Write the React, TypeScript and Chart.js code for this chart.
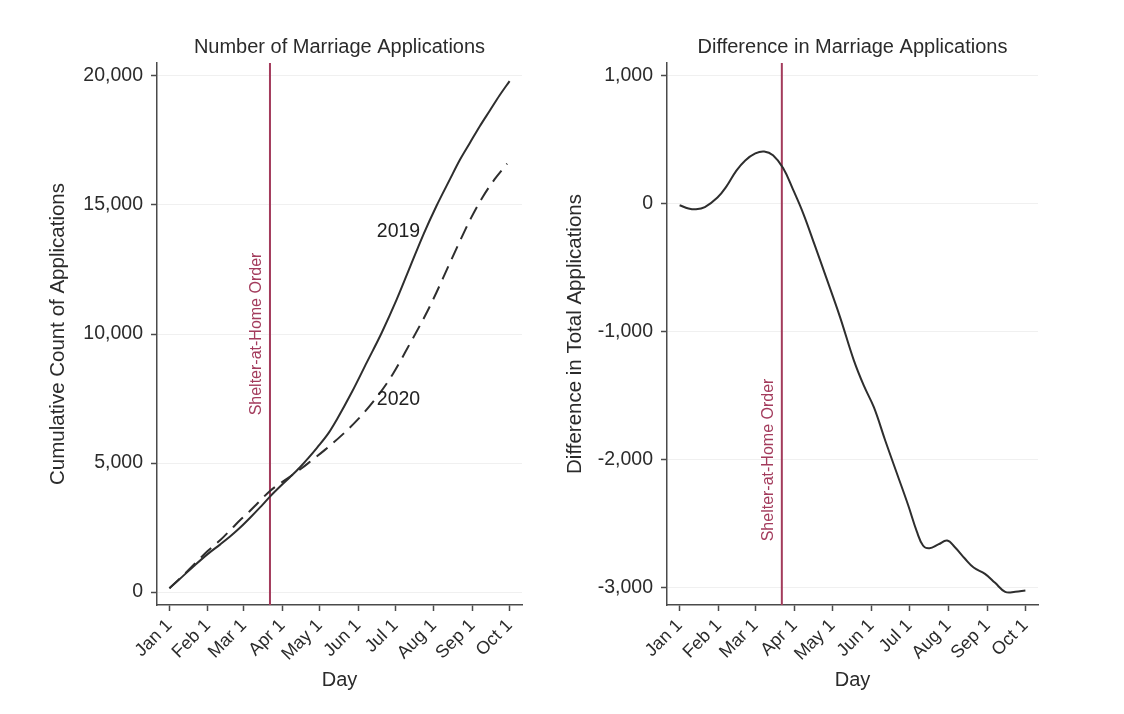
import React, { useEffect, useRef } from "react";
import { Chart, registerables } from "chart.js";

Chart.register(...registerables);

// ---------- data ----------
const monthTickDays = [0, 31, 60, 91, 121, 152, 182, 213, 244, 274];
const monthTickLabels = ["Jan 1", "Feb 1", "Mar 1", "Apr 1", "May 1", "Jun 1", "Jul 1", "Aug 1", "Sep 1", "Oct 1"];

const shelterDay = 81;
const shelterLabel = "Shelter-at-Home Order";

const leftTitle = "Number of Marriage Applications";
const leftYTitle = "Cumulative Count of Applications";
const leftYTicks = [0, 5000, 10000, 15000, 20000];

const rightTitle = "Difference in Marriage Applications";
const rightYTitle = "Difference in Total Applications";
const rightYTicks = [-3000, -2000, -1000, 0, 1000];

const xTitle = "Day";

const days2019 = [0, 10, 20, 31, 41, 50, 57, 65, 73, 81, 90, 97, 105, 112, 119, 128, 135, 147, 159, 171, 183, 194, 205, 215, 226, 234, 242, 250, 258, 266, 274];
const count2019 = [150, 580, 1020, 1480, 1850, 2200, 2500, 2880, 3280, 3700, 4130, 4450, 4830, 5200, 5600, 6150, 6700, 7750, 8900, 10050, 11330, 12620, 13900, 14950, 16000, 16750, 17400, 18050, 18650, 19250, 19800];

const days2020 = [0, 10, 20, 31, 41, 50, 57, 65, 71, 81, 89, 97, 106, 114, 125, 140, 152, 167, 180, 194, 202, 208, 215, 224, 234, 243, 252, 262, 272];
const count2020 = [150, 600, 1080, 1600, 2015, 2450, 2790, 3150, 3440, 3920, 4200, 4470, 4780, 5080, 5500, 6130, 6700, 7550, 8450, 9650, 10350, 10900, 11600, 12550, 13600, 14500, 15280, 16000, 16600];

const seriesLabels = ["2019", "2020"];
const seriesLabelDays = [184.5, 184.5];
const seriesLabelValues = [13950, 7440];

const diffDays = [0, 7, 13, 20, 30, 37, 45, 52, 60, 67, 74, 82, 90, 98, 107, 116, 127, 138, 146, 154, 163, 172, 181, 188, 193, 198, 205, 212, 218, 226, 233, 242, 250, 258, 266, 274];
const diffValues = [-10, -35, -42, -25, 50, 135, 260, 340, 395, 410, 380, 280, 110, -75, -320, -570, -880, -1220, -1420, -1590, -1850, -2100, -2350, -2560, -2670, -2690, -2660, -2630, -2680, -2770, -2840, -2890, -2960, -3030, -3030, -3020];

// ---------- styling ----------
const FONT = "'Liberation Sans', Arial, Helvetica, sans-serif";
const TEXT = "#2b2b2b";
const AXIS = "#4a4a4a";
const LINE = "#2e2e2e";
const MARKER = "#a33b5c";

function fmt(v: number): string {
  const s = Math.abs(v).toString().replace(/\B(?=(\d{3})+(?!\d))/g, ",");
  return v < 0 ? "-" + s : s;
}

const annotationPlugin = {
  id: "annotations",
  beforeDatasetsDraw(chart: any, _args: any, opts: any) {
    const { ctx, chartArea, scales } = chart;
    const x = scales.x.getPixelForValue(opts.lineDay);
    ctx.save();
    ctx.strokeStyle = MARKER;
    ctx.lineWidth = 2;
    ctx.beginPath();
    ctx.moveTo(x, chartArea.top);
    ctx.lineTo(x, chartArea.bottom);
    ctx.stroke();
    const y = scales.y.getPixelForValue(opts.labelValue);
    ctx.translate(x - 13, y);
    ctx.rotate(-Math.PI / 2);
    ctx.font = `16px ${FONT}`;
    ctx.fillStyle = MARKER;
    ctx.textAlign = "center";
    ctx.textBaseline = "middle";
    ctx.fillText(opts.label, 0, 0);
    ctx.restore();
  },
  afterDatasetsDraw(chart: any, _args: any, opts: any) {
    const texts = opts.texts || [];
    if (!texts.length) return;
    const { ctx, scales } = chart;
    ctx.save();
    ctx.font = `19.5px ${FONT}`;
    ctx.fillStyle = "#222";
    ctx.textAlign = "center";
    ctx.textBaseline = "middle";
    texts.forEach((t: any) => {
      ctx.fillText(t.text, scales.x.getPixelForValue(t.x), scales.y.getPixelForValue(t.y));
    });
    ctx.restore();
  },
};

function makeConfig(p: {
  title: string;
  yTitle: string;
  yTicks: number[];
  yMin: number;
  yMax: number;
  yWidth: number;
  yTitlePad: number;
  padRight: number;
  datasets: any[];
  labelValue: number;
  texts: any[];
}): any {
  return {
    type: "line",
    data: { datasets: p.datasets },
    plugins: [annotationPlugin],
    options: {
      animation: false,
      responsive: true,
      maintainAspectRatio: false,
      layout: { padding: { left: 0, right: p.padRight, top: 0, bottom: 0 } },
      plugins: {
        legend: { display: false },
        tooltip: { enabled: false },
        title: {
          display: true,
          text: p.title,
          fullSize: false,
          color: TEXT,
          font: { family: FONT, size: 20, weight: "normal" },
          padding: { top: 35, bottom: 4 },
        },
        annotations: { lineDay: shelterDay, label: shelterLabel, labelValue: p.labelValue, texts: p.texts },
      },
      scales: {
        x: {
          type: "linear",
          min: -10,
          max: 284,
          afterFit: (s: any) => {
            s.height = 109;
          },
          afterBuildTicks: (s: any) => {
            s.ticks = monthTickDays.map((v) => ({ value: v }));
          },
          border: { display: true, color: AXIS, width: 1.5 },
          grid: { drawOnChartArea: false, drawTicks: true, tickLength: 6, tickColor: AXIS, tickWidth: 1.5 },
          ticks: {
            minRotation: 45,
            maxRotation: 45,
            autoSkip: false,
            padding: 4,
            color: TEXT,
            font: { family: FONT, size: 18 },
            callback: (v: any) => {
              const i = monthTickDays.indexOf(Number(v));
              return i >= 0 ? monthTickLabels[i] : "";
            },
          },
          title: {
            display: true,
            text: xTitle,
            color: TEXT,
            font: { family: FONT, size: 20 },
            padding: { top: 0, bottom: 22 },
          },
        },
        y: {
          type: "linear",
          min: p.yMin,
          max: p.yMax,
          afterFit: (s: any) => {
            s.width = p.yWidth;
          },
          afterBuildTicks: (s: any) => {
            s.ticks = p.yTicks.map((v) => ({ value: v }));
          },
          border: { display: true, color: AXIS, width: 1.5 },
          grid: { color: "#f0f0f0", lineWidth: 1, drawTicks: true, tickLength: 6, tickColor: AXIS, tickWidth: 1.5 },
          ticks: {
            padding: 8,
            color: TEXT,
            font: { family: FONT, size: 19.5 },
            callback: (v: any) => fmt(Number(v)),
          },
          title: {
            display: true,
            text: p.yTitle,
            color: TEXT,
            font: { family: FONT, size: 20.5 },
            padding: { top: p.yTitlePad, bottom: 0 },
          },
        },
      },
    },
  };
}

function toPoints(xs: number[], ys: number[]) {
  return xs.map((x, i) => ({ x, y: ys[i] }));
}

export default function App() {
  const leftRef = useRef<HTMLCanvasElement | null>(null);
  const rightRef = useRef<HTMLCanvasElement | null>(null);

  useEffect(() => {
    document.body.style.margin = "0";
    document.body.style.background = "#ffffff";
    const left = new Chart(
      leftRef.current as HTMLCanvasElement,
      makeConfig({
        title: leftTitle,
        yTitle: leftYTitle,
        yTicks: leftYTicks,
        yMin: -500,
        yMax: 20500,
        yWidth: 157,
        yTitlePad: 46,
        padRight: 38,
        labelValue: 10000,
        texts: seriesLabels.map((t, i) => ({ text: t, x: seriesLabelDays[i], y: seriesLabelValues[i] })),
        datasets: [
          {
            label: seriesLabels[0],
            data: toPoints(days2019, count2019),
            borderColor: LINE,
            borderWidth: 2,
            pointRadius: 0,
            cubicInterpolationMode: "monotone",
            fill: false,
          },
          {
            label: seriesLabels[1],
            data: toPoints(days2020, count2020),
            borderColor: LINE,
            borderWidth: 2,
            borderDash: [14, 8],
            pointRadius: 0,
            cubicInterpolationMode: "monotone",
            fill: false,
          },
        ],
      })
    );
    const right = new Chart(
      rightRef.current as HTMLCanvasElement,
      makeConfig({
        title: rightTitle,
        yTitle: rightYTitle,
        yTicks: rightYTicks,
        yMin: -3133,
        yMax: 1101,
        yWidth: 107,
        yTitlePad: 3,
        padRight: 86,
        labelValue: -2000,
        texts: [],
        datasets: [
          {
            label: "Difference",
            data: toPoints(diffDays, diffValues),
            borderColor: LINE,
            borderWidth: 2,
            pointRadius: 0,
            tension: 0.4,
            fill: false,
          },
        ],
      })
    );
    return () => {
      left.destroy();
      right.destroy();
    };
  }, []);

  return (
    <div style={{ position: "relative", width: 1124, height: 714, background: "#fff" }}>
      <div style={{ position: "absolute", left: 0, top: 0, width: 560, height: 714 }}>
        <canvas ref={leftRef} />
      </div>
      <div style={{ position: "absolute", left: 560, top: 0, width: 564, height: 714 }}>
        <canvas ref={rightRef} />
      </div>
    </div>
  );
}
